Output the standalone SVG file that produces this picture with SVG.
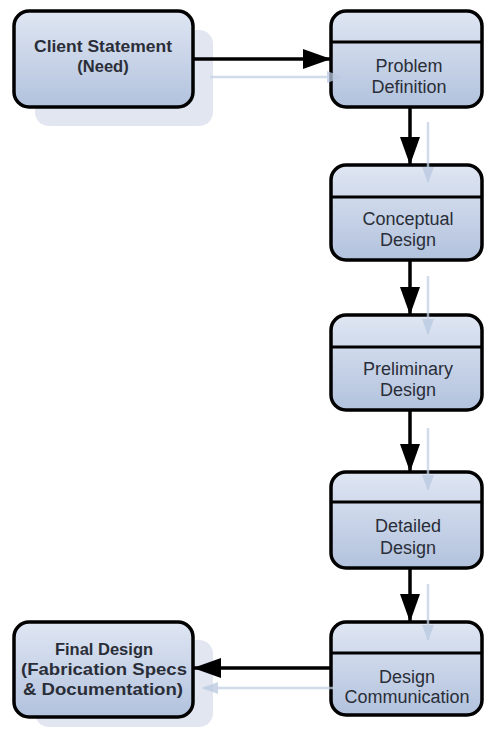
<svg xmlns="http://www.w3.org/2000/svg" width="484" height="730" viewBox="0 0 484 730">
<defs>
<linearGradient id="g" x1="0" y1="0" x2="0" y2="1">
<stop offset="0" stop-color="#dfe6f3"/>
<stop offset="1" stop-color="#b2c2dd"/>
</linearGradient>
<marker id="ah" viewBox="0 0 28 20" refX="27" refY="10" markerWidth="28" markerHeight="20" orient="auto" markerUnits="userSpaceOnUse">
<path d="M0,0 L28,10 L0,20 Z" fill="#000"/>
</marker>
<marker id="sh" viewBox="0 0 16 12" refX="15" refY="6" markerWidth="16" markerHeight="12" orient="auto" markerUnits="userSpaceOnUse">
<path d="M0,0 L16,6 L0,12 Z" fill="#b9c9e0"/>
</marker>
</defs>
<style>
.box{fill:url(#g);stroke:#000;stroke-width:3.5}
.shadow{fill:#e1e6f1}
.div{stroke:#000;stroke-width:3}
.t{font-family:"Liberation Sans",Arial,sans-serif;font-size:18px;fill:#2a2e38;text-anchor:middle}
.b{font-weight:bold;font-size:16.5px}
.c{stroke:#000;stroke-width:3.5;fill:none}
.cs{stroke:#c3d0e4;stroke-width:2.5;fill:none;opacity:0.75}
</style>
<rect width="484" height="730" fill="#fff"/>
<g id="shadows">
<rect class="shadow" x="35" y="30" width="178" height="96" rx="14"/>
<rect class="shadow" x="35" y="640" width="178" height="87" rx="14"/>
</g>
<g id="connectors">
<line class="c" x1="193" y1="59" x2="330" y2="59" marker-end="url(#ah)"/>
<line class="c" x1="410" y1="107" x2="410" y2="164" marker-end="url(#ah)"/>
<line class="c" x1="410" y1="261" x2="410" y2="314" marker-end="url(#ah)"/>
<line class="c" x1="410" y1="411" x2="410" y2="471" marker-end="url(#ah)"/>
<line class="c" x1="410" y1="569" x2="410" y2="621" marker-end="url(#ah)"/>
<line class="c" x1="332" y1="668" x2="194" y2="668" marker-end="url(#ah)"/>
</g>
<g id="client">
<rect class="box" x="14" y="11" width="179" height="96" rx="15"/>
<text class="t b" x="103" y="52" textLength="138" lengthAdjust="spacingAndGlyphs">Client Statement</text>
<text class="t b" x="103" y="72">(Need)</text>
</g>
<g id="problem">
<rect class="box" x="331" y="11" width="151" height="96" rx="15"/>
<line class="div" x1="331" y1="42" x2="482" y2="42"/>
<text class="t" x="409" y="72">Problem</text>
<text class="t" x="409" y="93">Definition</text>
</g>
<g id="conceptual">
<rect class="box" x="331" y="165" width="151" height="95" rx="15"/>
<line class="div" x1="331" y1="197" x2="482" y2="197"/>
<text class="t" x="408" y="225">Conceptual</text>
<text class="t" x="408" y="246">Design</text>
</g>
<g id="preliminary">
<rect class="box" x="331" y="315" width="151" height="95" rx="15"/>
<line class="div" x1="331" y1="347" x2="482" y2="347"/>
<text class="t" x="408" y="375">Preliminary</text>
<text class="t" x="408" y="396">Design</text>
</g>
<g id="detailed">
<rect class="box" x="331" y="472" width="151" height="96" rx="15"/>
<line class="div" x1="331" y1="502" x2="482" y2="502"/>
<text class="t" x="408" y="532">Detailed</text>
<text class="t" x="408" y="554">Design</text>
</g>
<g id="communication">
<rect class="box" x="331" y="622" width="151" height="93" rx="15"/>
<line class="div" x1="331" y1="653" x2="482" y2="653"/>
<text class="t" x="407" y="683">Design</text>
<text class="t" x="407" y="703">Communication</text>
</g>
<g id="final">
<rect class="box" x="14" y="622" width="179" height="95" rx="15"/>
<text class="t b" x="104" y="655">Final Design</text>
<text class="t b" x="104" y="675" textLength="166" lengthAdjust="spacingAndGlyphs">(Fabrication Specs</text>
<text class="t b" x="103" y="695" textLength="160" lengthAdjust="spacingAndGlyphs">&amp; Documentation)</text>
</g>
<g id="shadow-connectors">
<line class="cs" x1="210" y1="77" x2="342" y2="77" marker-end="url(#sh)"/>
<line class="cs" x1="428" y1="122" x2="428" y2="182" marker-end="url(#sh)"/>
<line class="cs" x1="428" y1="276" x2="428" y2="334" marker-end="url(#sh)"/>
<line class="cs" x1="428" y1="428" x2="428" y2="490" marker-end="url(#sh)"/>
<line class="cs" x1="428" y1="584" x2="428" y2="640" marker-end="url(#sh)"/>
<line class="cs" x1="334" y1="688" x2="203" y2="688" marker-end="url(#sh)"/>
</g>
</svg>
